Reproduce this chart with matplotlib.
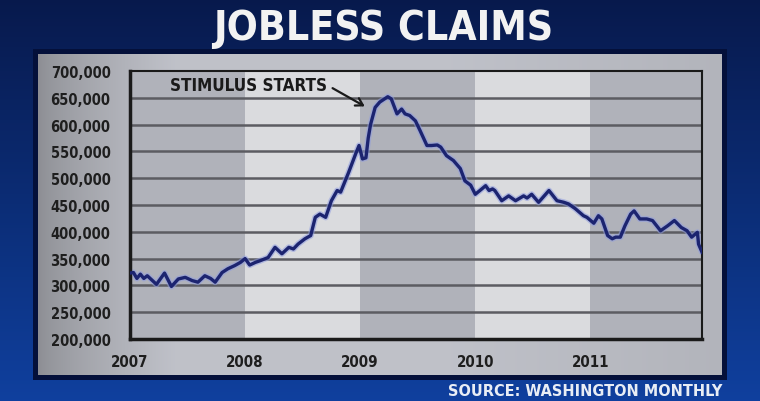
import numpy as np
import matplotlib.pyplot as plt
from matplotlib.patches import Rectangle
from matplotlib import font_manager

# weekly jobless claims (decimal year, thousands)
dates = [2007.00, 2007.03, 2007.06, 2007.09, 2007.12, 2007.15, 2007.19, 2007.23,
         2007.30, 2007.36, 2007.42, 2007.48, 2007.54, 2007.59, 2007.65, 2007.70,
         2007.74, 2007.80, 2007.85, 2007.91, 2007.96, 2008.00, 2008.04, 2008.09,
         2008.13, 2008.20, 2008.26, 2008.32, 2008.38, 2008.42, 2008.46, 2008.52,
         2008.57, 2008.61, 2008.65, 2008.70, 2008.75, 2008.80, 2008.83, 2008.90,
         2008.96, 2008.99, 2009.02, 2009.05, 2009.07, 2009.09, 2009.13, 2009.17,
         2009.24, 2009.27, 2009.32, 2009.36, 2009.39, 2009.43, 2009.48, 2009.52,
         2009.58, 2009.62, 2009.67, 2009.70, 2009.75, 2009.81, 2009.87, 2009.91,
         2009.96, 2010.00, 2010.04, 2010.09, 2010.12, 2010.15, 2010.17, 2010.23,
         2010.29, 2010.35, 2010.42, 2010.45, 2010.49, 2010.55, 2010.64, 2010.71,
         2010.77, 2010.81, 2010.87, 2010.94, 2010.97, 2011.03, 2011.07, 2011.10,
         2011.15, 2011.19, 2011.22, 2011.26, 2011.30, 2011.35, 2011.38, 2011.43,
         2011.49, 2011.54, 2011.61, 2011.67, 2011.73, 2011.79, 2011.84, 2011.88,
         2011.93, 2011.94, 2011.97]
claims = [323, 324, 313, 321, 313, 318, 310, 302,
          323, 298, 312, 315, 309, 306, 318, 313,
          306, 324, 331, 337, 343, 350, 338, 343,
          346, 352, 371, 359, 371, 368, 377, 387,
          393, 427, 433, 427, 458, 477, 474, 511,
          545, 561, 536, 538, 575, 600, 632, 642,
          652, 648, 620, 629, 620, 617, 607, 589,
          561, 561, 562, 558, 542, 533, 518, 495,
          487, 470, 477, 486, 477, 480, 477, 458,
          467, 458, 467, 463, 470, 455, 477, 458,
          455, 452, 443, 430, 427, 416, 430, 424,
          393, 387, 390, 390, 411, 433, 439, 424,
          424, 421, 402, 411, 421, 408, 402, 390,
          399, 377, 362]
claims = np.array(claims) * 1000

years = [2007, 2008, 2009, 2010, 2011]
yticks = [200000, 250000, 300000, 350000, 400000, 450000, 500000, 550000, 600000, 650000, 700000]

# condensed bold if we have one, otherwise plain DejaVu at smaller sizes
fp = font_manager.FontProperties(family='DejaVu Sans', weight='bold', stretch='condensed')
path = font_manager.findfont(fp, fallback_to_default=True)
if 'Condensed' in path:
    font = dict(family='DejaVu Sans', stretch='condensed', fontweight='bold')
    k = 1.13
else:
    font = dict(family='DejaVu Sans', fontweight='bold')
    k = 1.0

fig = plt.figure(figsize=(7.6, 4.02), dpi=100)

#------ blue background
bg = fig.add_axes([0, 0, 1, 1])
grad = np.linspace(0, 1, 200).reshape(-1, 1)
top_c = np.array([0.03, 0.10, 0.30])
bot_c = np.array([0.06, 0.25, 0.62])
img = top_c + (bot_c - top_c) * grad[:, :, None]
bg.imshow(img, aspect='auto', extent=[0, 1, 0, 1], origin='upper')
bg.set_xlim(0, 1)
bg.set_ylim(0, 1)
bg.axis('off')
bg.text(0.504, 0.928, 'JOBLESS CLAIMS', color='#f2f2f2', fontsize=26*k,
        ha='center', va='center', **font)
bg.text(0.95, 0.026, 'SOURCE: WASHINGTON MONTHLY', color='#e8edf5', fontsize=10.3*k,
        ha='right', va='center', **font)

#------ gray panel
px0, px1, py0, py1 = 38/760, 722/760, 1-376/402, 1-55/402
bg.add_patch(Rectangle((px0-0.006, py0-0.012), px1-px0+0.012, py1-py0+0.024,
                       facecolor='#04103a', edgecolor='none', zorder=1))
panel = fig.add_axes([px0, py0, px1-px0, py1-py0])
h = np.linspace(0, 1, 300)
shade = 0.55 + 0.20 * np.clip(h / 0.2, 0, 1) ** 0.7 - 0.05 * np.clip((h - 0.6) / 0.4, 0, 1)
pimg = np.stack([shade, shade * 1.01, shade * 1.05], axis=-1)[None, :, :]
pimg = np.clip(pimg, 0, 1)
panel.imshow(pimg, aspect='auto', extent=[0, 1, 0, 1])
panel.axis('off')

#------ chart
ax = fig.add_axes([130/760, 1-340/402, 572/760, 268/402])
for i, y in enumerate(years):
    ax.axvspan(y, y + 1, color='#b0b2ba' if i % 2 == 0 else '#dadbde', zorder=0, lw=0)
for t in yticks[1:-1]:
    ax.axhline(t, color='#5c5c62', lw=1.8, zorder=1)

ax.plot(dates, claims, color='#8f9ce0', lw=4.4, alpha=0.55, zorder=2, solid_capstyle='round')
ax.plot(dates, claims, color='#1c2470', lw=2.4, zorder=3, solid_joinstyle='round')

ax.set_xlim(2007, 2011.97)
ax.set_ylim(200000, 700000)
ax.set_xticks(years)
ax.set_xticklabels([str(y) for y in years])
ax.set_yticks(yticks)
ax.set_yticklabels(['{:,}'.format(v) for v in yticks])
ax.tick_params(length=0, labelsize=9.3*k, labelcolor='#1e1e1e')
ax.tick_params(axis='x', pad=11, labelsize=9.6*k)
ax.tick_params(axis='y', pad=14)
for lab in ax.get_xticklabels() + ax.get_yticklabels():
    lab.set_fontweight('bold')
    lab.set_family(font['family'])
    if 'stretch' in font:
        lab.set_fontstretch('condensed')
for s in ax.spines.values():
    s.set_color('#1a1a1a')
    s.set_linewidth(1.5)
ax.spines['left'].set_linewidth(2.5)
ax.spines['bottom'].set_linewidth(2.5)

# label and arrow
ax.text(2008.03, 673000, 'STIMULUS STARTS', ha='center', va='center',
        fontsize=10.8*k, color='#1a1a1a', **font)
ax.annotate('', xy=(2009.04, 634000), xytext=(2008.76, 668000),
            arrowprops=dict(arrowstyle='->,head_length=0.5,head_width=0.3',
                            color='#1a1a1a', lw=1.6, shrinkA=0, shrinkB=0))

fig.savefig('out.png', dpi=100)
